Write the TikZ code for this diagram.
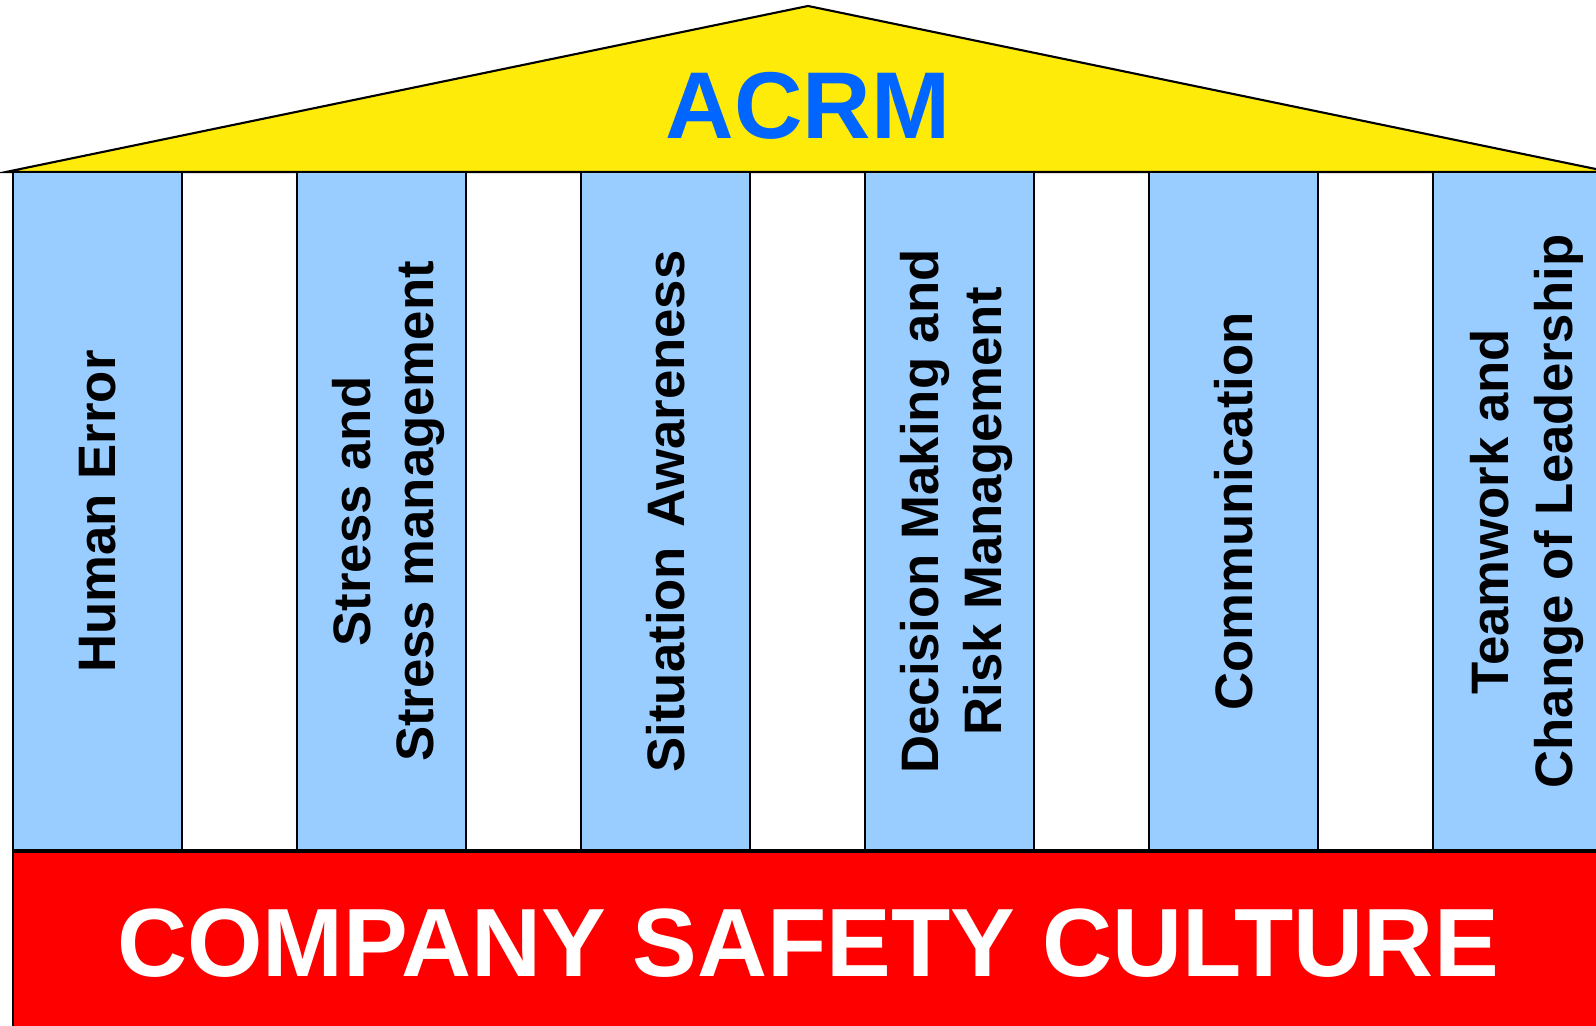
\documentclass[tikz,border=0pt]{standalone}
\usepackage{fontspec}
\setmainfont{Liberation Sans}
\usetikzlibrary{positioning}
\definecolor{roofyellow}{HTML}{FFEB0A}
\definecolor{pillarblue}{HTML}{99CCFF}
\definecolor{acrmblue}{HTML}{0066FF}
\newcommand{\bigbold}{\fontsize{27}{32}\selectfont\bfseries}

\begin{document}
\begin{tikzpicture}[node distance=1.15cm,semithick]
  \tikzstyle{every node}=[inner sep=0pt,outer sep=0pt]
  \tikzstyle{pillar}=[draw,fill=pillarblue,minimum width=1.69cm,minimum height=6.79cm]
  \tikzstyle{pillartext}=[rotate=90,align=center,text=black,font=\fontsize{15}{18}\selectfont\bfseries]
  \tikzstyle{twolines}=[xshift=0.07cm,pillartext]

  \useasboundingbox (0,0) rectangle (15.96,10.26);
  \clip (0,0) rectangle (15.96,10.26);

  % roof
  \coordinate (L) at (0.06,8.54);
  \coordinate (T) at (8.08,10.20);
  \coordinate (R) at (16.10,8.54);
  \draw[fill=roofyellow] (L) -- (T) -- (R) -- cycle;
  \node[anchor=base,text=acrmblue,font=\bigbold] (acrm) at (8.08,8.87) {ACRM};

  % pillars
  \node[pillar,anchor=south west] (HE) at (0.13,1.75) {};
  \node[pillar]                   (SM) [right=of HE] {};
  \node[pillar]                   (SA) [right=of SM] {};
  \node[pillar]                   (DM) [right=of SA] {};
  \node[pillar]                   (CO) [right=of DM] {};
  \node[pillar]                   (TL) [right=of CO] {};

  \node[pillartext] at (HE.center) {Human Error};
  \node[twolines]   at (SM.center) {Stress and\\Stress management};
  \node[pillartext] at (SA.center) {Situation\hspace{0.36em}Awareness};
  \node[twolines]   at (DM.center) {Decision Making and\\Risk Management};
  \node[pillartext] at (CO.center) {Communication};
  \node[xshift=0.095cm,pillartext] at (TL.center) {Teamwork and\\Change of Leadership};

  % foundation
  \node[draw,fill=red,anchor=north west,minimum width=16.2cm,minimum height=2cm] (base) at (0.13,1.75) {};
  \draw[line width=0.04cm] (base.north west) -- (base.north east);
  \node[anchor=base,text=white,font=\fontsize{27.6}{32}\selectfont\bfseries] (culture) at (8.08,0.49) {COMPANY SAFETY CULTURE};
\end{tikzpicture}
\end{document}
